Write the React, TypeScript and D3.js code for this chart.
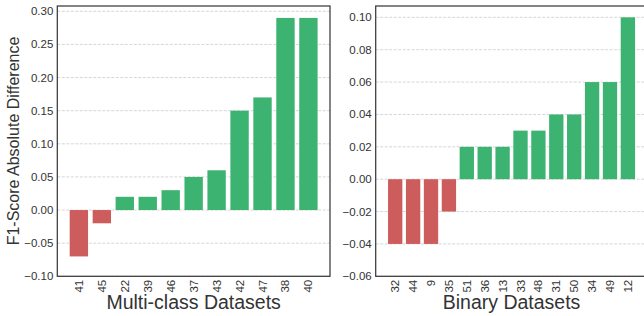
import * as d3 from 'd3';

const multiLabels = ['41', '45', '22', '39', '46', '37', '43', '42', '47', '38', '40'];
const multiValues = [-0.07, -0.02, 0.02, 0.02, 0.03, 0.05, 0.06, 0.15, 0.17, 0.29, 0.29];
const multiTicks = [-0.1, -0.05, 0, 0.05, 0.1, 0.15, 0.2, 0.25, 0.3];

const binaryLabels = ['32', '44', '9', '35', '51', '36', '13', '33', '48', '31', '50', '34', '49', '12'];
const binaryValues = [-0.04, -0.04, -0.04, -0.02, 0.02, 0.02, 0.02, 0.03, 0.03, 0.04, 0.04, 0.06, 0.06, 0.1];
const binaryTicks = [-0.06, -0.04, -0.02, 0, 0.02, 0.04, 0.06, 0.08, 0.1];

const POS = '#3cb371';
const NEG = '#cd5c5c';
const FONT = '"Liberation Sans", Arial, sans-serif';
const TXT = '#333';

const fmt = (d: number) => d3.format('.2f')(d).replace('-', '\u2212');

type PanelProps = {
  labels: string[];
  values: number[];
  ticks: number[];
  yMin: number;
  left: number;
  right: number;
  xlabel: string;
};

const top = 6;
const bottom = 276.3;

function Panel({ labels, values, ticks, yMin, left, right, xlabel }: PanelProps) {
  const n = labels.length;
  const span = (n - 1 + 0.8) * 0.05;
  const x = d3.scaleLinear().domain([-0.4 - span, n - 0.6 + span]).range([left, right]);
  const yMaxData = d3.max(values) as number;
  const yMinData = d3.min(values) as number;
  const yMax = yMaxData + (yMaxData - yMinData) * 0.05;
  const y = d3.scaleLinear().domain([yMin, yMax]).range([bottom, top]);
  const bw = x(0.4) - x(-0.4);
  return (
    <g>
      {ticks.map((t) => (
        <line key={'g' + t} x1={left} x2={right} y1={y(t)} y2={y(t)} stroke="#cccccc" strokeWidth={0.8} strokeDasharray="3,1.5" />
      ))}
      {values.map((v, i) => (
        <rect
          key={'b' + i}
          x={x(i) - bw / 2}
          width={bw}
          y={Math.min(y(v), y(0))}
          height={Math.abs(y(v) - y(0))}
          fill={v >= 0 ? POS : NEG}
        />
      ))}
      <rect x={left} y={top} width={right - left} height={bottom - top} fill="none" stroke="#3a3a3a" strokeWidth={1.25} />
      {ticks.map((t) => (
        <text key={'t' + t} x={left - 4} y={y(t)} dy="0.35em" textAnchor="end" fontSize={11.5} fontFamily={FONT} fill={TXT}>
          {fmt(t)}
        </text>
      ))}
      {labels.map((l, i) => (
        <text
          key={'l' + i}
          transform={`translate(${x(i)},${bottom + 3.5}) rotate(-90)`}
          dy="0.35em"
          textAnchor="end"
          fontSize={11.5}
          fontFamily={FONT}
          fill={TXT}
        >
          {l}
        </text>
      ))}
      <text x={(left + right) / 2} y={309} textAnchor="middle" fontSize={19.5} fontFamily={FONT} fill={TXT}>
        {xlabel}
      </text>
    </g>
  );
}

export default function App() {
  return (
    <svg width={644} height={316} style={{ position: 'absolute', left: 0, top: 0, background: '#fff' }}>
      <text
        transform="translate(19,141) rotate(-90)"
        textAnchor="middle"
        fontSize={16}
        fontFamily={FONT}
        fill={TXT}
      >
        F1-Score Absolute Difference
      </text>
      <Panel labels={multiLabels} values={multiValues} ticks={multiTicks} yMin={-0.1} left={57.3} right={330} xlabel="Multi-class Datasets" />
      <Panel labels={binaryLabels} values={binaryValues} ticks={binaryTicks} yMin={-0.06} left={375.7} right={647.4} xlabel="Binary Datasets" />
    </svg>
  );
}
